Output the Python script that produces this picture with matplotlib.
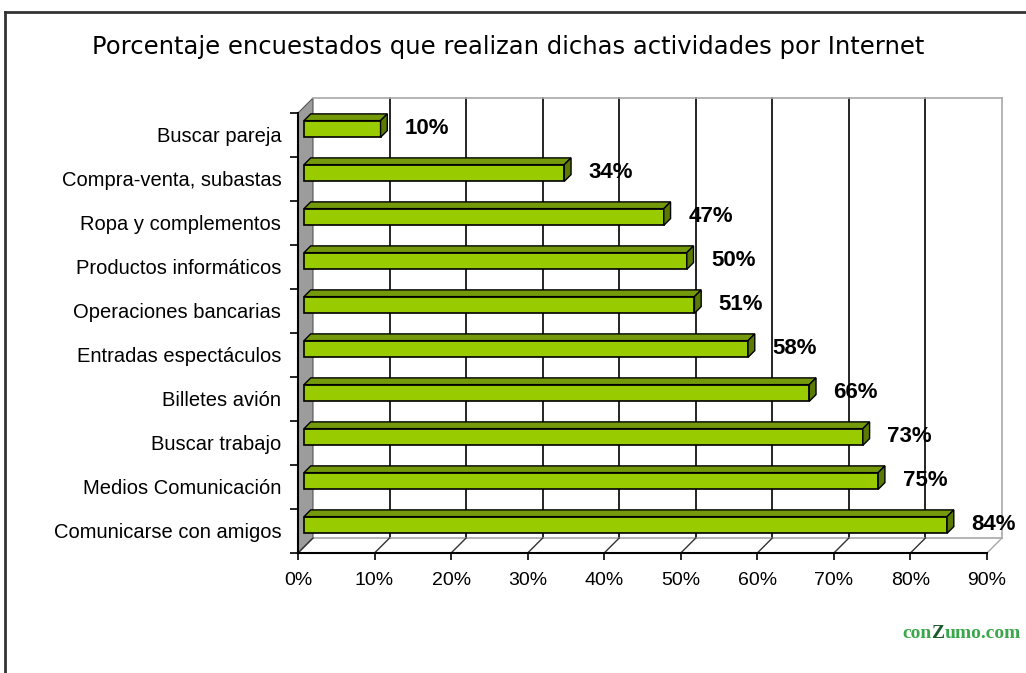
import numpy as np
import matplotlib.pyplot as plt
from matplotlib.patches import Polygon

# Datos
categorias = ['Buscar pareja', 'Compra-venta, subastas', 'Ropa y complementos',
              'Productos informáticos', 'Operaciones bancarias', 'Entradas espectáculos',
              'Billetes avión', 'Buscar trabajo', 'Medios Comunicación',
              'Comunicarse con amigos']
porcentajes = [10, 34, 47, 50, 51, 58, 66, 73, 75, 84]
ticks_x = [0, 10, 20, 30, 40, 50, 60, 70, 80, 90]
etiquetas_x = ['0%', '10%', '20%', '30%', '40%', '50%', '60%', '70%', '80%', '90%']
titulo = 'Porcentaje encuestados que realizan dichas actividades por Internet'

plt.rcParams['font.family'] = ['Liberation Sans', 'DejaVu Sans']

W, H = 1026, 673
fig = plt.figure(figsize=(W / 100, H / 100), dpi=100)

# Borde de la imagen
fig.add_artist(plt.Line2D([5 / W, 5 / W], [0, 1 - 12 / H], color='#333333', lw=2))
fig.add_artist(plt.Line2D([5 / W, 1], [1 - 12 / H, 1 - 12 / H], color='#333333', lw=2))

# Plano frontal del gráfico
x0, x1, y_sup, y_inf = 298, 987, 113, 553
ax = fig.add_axes([x0 / W, 1 - y_inf / H, (x1 - x0) / W, (y_inf - y_sup) / H])
ax.set_xlim(0, 90)
ax.set_ylim(9.5, -0.5)
ax.patch.set_alpha(0)

px_x = (x1 - x0) / 90
px_y = (y_inf - y_sup) / 10
dx = 15 / px_x   # profundidad en unidades de datos
dy = 15 / px_y

# Pared izquierda (gris)
ax.add_patch(Polygon([(0, 9.5), (0, -0.5), (dx, -0.5 - dy), (dx, 9.5 - dy)],
                     closed=True, facecolor='#9c9c9c', edgecolor='#555555', lw=0.8,
                     clip_on=False, zorder=1))

# Líneas de cuadrícula en la pared del fondo
for t in ticks_x[1:-1]:
    ax.plot([t + dx, t + dx], [9.5 - dy, -0.5 - dy], color='black', lw=1.2,
            clip_on=False, zorder=1)
gris = '#a8a8a8'
ax.plot([dx, 90 + dx], [-0.5 - dy, -0.5 - dy], color=gris, lw=1.2, clip_on=False, zorder=1)
ax.plot([90 + dx, 90 + dx], [-0.5 - dy, 9.5 - dy], color=gris, lw=1.2, clip_on=False, zorder=1)
ax.plot([dx, 90 + dx], [9.5 - dy, 9.5 - dy], color=gris, lw=1.2, clip_on=False, zorder=1)
# Suelo
for t in ticks_x:
    ax.plot([t, t + dx], [9.5, 9.5 - dy], color='#333333' if t < 90 else gris, lw=1,
            clip_on=False, zorder=1)

# Barras pseudo-3D
f0 = 0.4
fx, fy = f0 * dx, f0 * dy
bdx, bdy = 0.45 * dx, 0.45 * dy
h = 0.38
pos = np.arange(len(categorias))
ax.barh(pos - fy, porcentajes, left=fx, height=h, color='#99cc00',
        edgecolor='black', lw=1.2, zorder=3)
for i, v in enumerate(porcentajes):
    yc = i - fy
    arriba, abajo = yc - h / 2, yc + h / 2
    ax.add_patch(Polygon([(fx, arriba), (fx + v, arriba), (fx + v + bdx, arriba - bdy),
                          (fx + bdx, arriba - bdy)], closed=True, facecolor='#74990a',
                         edgecolor='black', lw=1, zorder=3, clip_on=False))
    ax.add_patch(Polygon([(fx + v, arriba), (fx + v, abajo), (fx + v + bdx, abajo - bdy),
                          (fx + v + bdx, arriba - bdy)], closed=True, facecolor='#5a7a00',
                         edgecolor='black', lw=1, zorder=3, clip_on=False))
    ax.text(fx + v + bdx + 2.3, yc, f'{v}%', fontsize=16, fontweight='bold',
            va='center', ha='left', zorder=4, clip_on=False)

# Ejes
for lado in ['top', 'right']:
    ax.spines[lado].set_visible(False)
ax.spines['left'].set_linewidth(1.5)
ax.spines['bottom'].set_linewidth(1.5)
ax.set_xticks(ticks_x, etiquetas_x)
ax.tick_params(axis='x', length=5, width=1.2, pad=9, labelsize=14)
ax.set_yticks(np.arange(-0.5, 10, 1), [''] * 11)
ax.tick_params(axis='y', which='major', length=6, width=1.2)
ax.set_yticks(pos, categorias, minor=True)
ax.tick_params(axis='y', which='minor', length=0, pad=12, labelsize=14.5)

# Título
fig.text(508 / W, 1 - 47 / H, titulo, fontsize=17.5, family='DejaVu Sans',
         ha='center', va='center')

# Marca de agua
t1 = fig.text(902 / W, 1 - 634 / H, 'con', fontsize=14, fontweight='bold',
              family='Liberation Serif', color='#3aa64a', va='center')
t2 = ax.annotate('Z', xy=(1, 0), xycoords=t1, fontsize=14, fontweight='bold',
                 family='Liberation Serif', color='#1d5a2c', va='bottom')
ax.annotate('umo.com', xy=(1, 0), xycoords=t2, fontsize=14, fontweight='bold',
            family='Liberation Serif', color='#3aa64a', va='bottom')

fig.savefig('out.png', dpi=100)
